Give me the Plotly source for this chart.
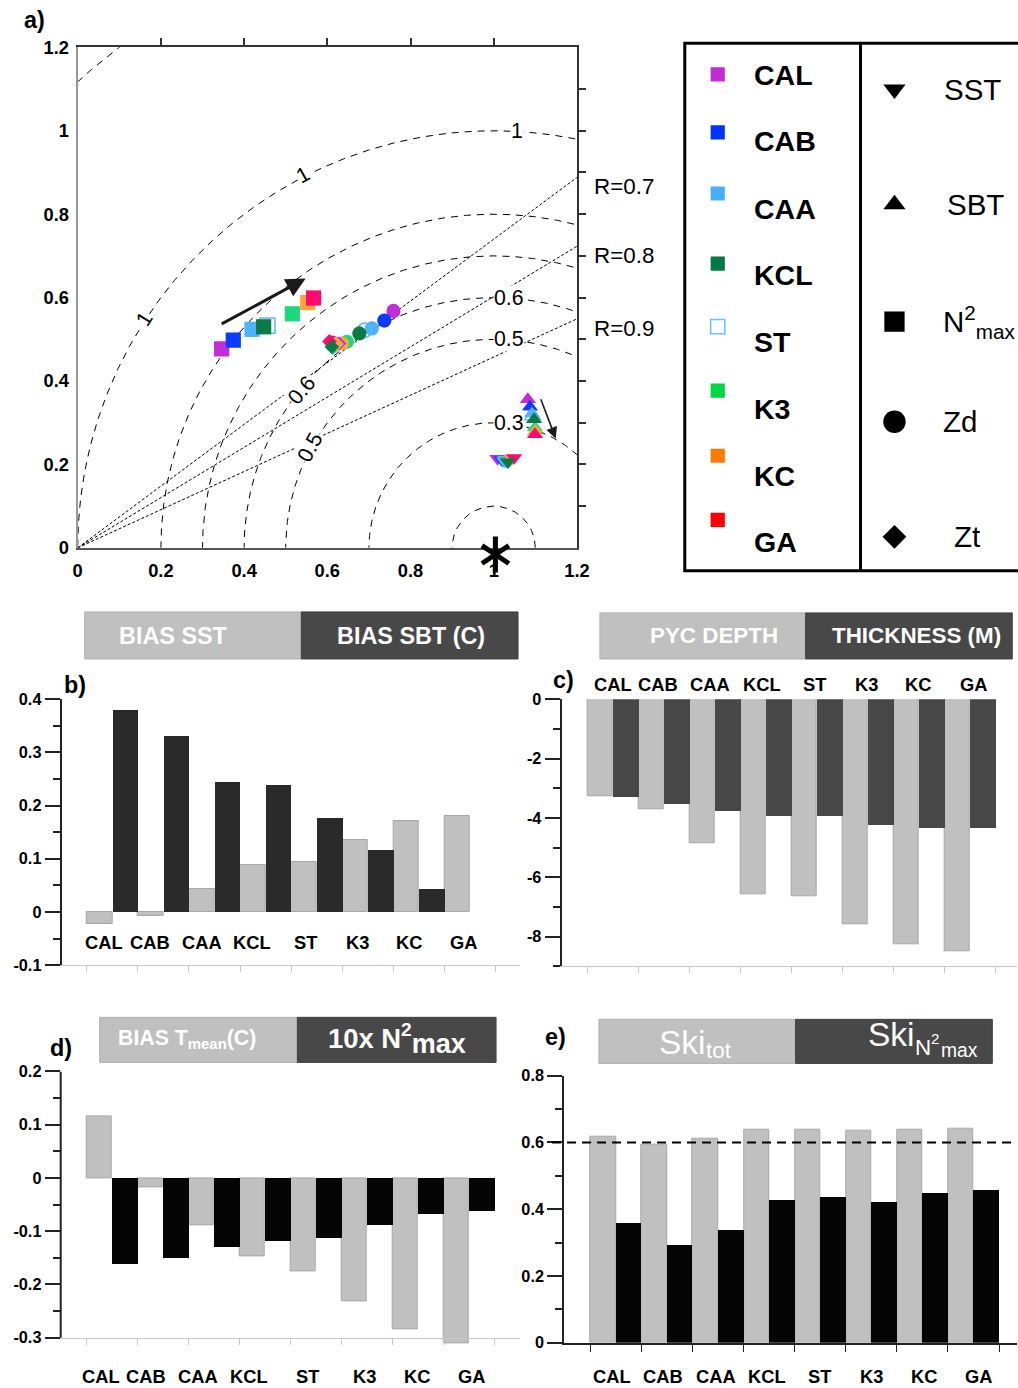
import numpy as np
import plotly.graph_objects as go

# The photographed page maps figure pixels f to picture pixels d = S*f + B
# (measured on earlier renders); all layout positions below are given in
# picture pixels of the reference and converted back through this mapping.
S, BX, BY = 0.984, 4.2, 9.7
W = int(round((1018 - BX) / S))
H = int(round((1388 - BY) / S))
FONT = "Liberation Sans, Arial, sans-serif"

# ---------------- DATA ----------------
models = ["CAL", "CAB", "CAA", "KCL", "ST", "K3", "KC", "GA"]

# Taylor diagram (normalised) coordinates per model
sst_x = [1.009, 1.020, 1.025, 1.034, 1.030, 1.038, 1.044, 1.049]
sst_y = [0.214, 0.210, 0.208, 0.206, 0.210, 0.209, 0.214, 0.216]
sbt_x = [1.082, 1.087, 1.092, 1.097, 1.093, 1.099, 1.100, 1.099]
sbt_y = [0.356, 0.338, 0.322, 0.308, 0.315, 0.288, 0.280, 0.272]
n2_x = [0.346, 0.374, 0.419, 0.447, 0.456, 0.516, 0.553, 0.567]
n2_y = [0.477, 0.498, 0.524, 0.530, 0.533, 0.561, 0.588, 0.599]
zd_x = [0.759, 0.737, 0.707, 0.677, 0.690, 0.647, 0.635, 0.612]
zd_y = [0.568, 0.545, 0.526, 0.514, 0.522, 0.494, 0.490, 0.492]
zt_x = [0.628, 0.615, 0.618, 0.611, 0.620, 0.613, 0.622, 0.605]
zt_y = [0.490, 0.487, 0.486, 0.482, 0.488, 0.480, 0.489, 0.495]

# reference geometry of the diagram
rms_radii = [0.1, 0.3, 0.5, 0.6, 0.7, 0.8, 1.0, 1.5]
corr_labels = ["R=0.7", "R=0.8", "R=0.9"]
corr_end_y = [0.888, 0.723, 0.549]        # y where each R line meets x=1.2
ref_point = (1.0, 0.0)

# bar panels
sst_bias = [-0.022, -0.007, 0.044, 0.089, 0.093, 0.135, 0.171, 0.181]
sbt_bias = [0.380, 0.330, 0.245, 0.238, 0.176, 0.116, 0.043, None]
pyc_depth = [-3.27, -3.72, -4.84, -6.58, -6.65, -7.59, -8.26, -8.49]
thickness = [-3.30, -3.55, -3.79, -3.96, -3.93, -4.24, -4.34, -4.36]
tmean_bias = [0.116, -0.017, -0.089, -0.147, -0.176, -0.231, -0.285, -0.311]
n2max_10x = [-0.163, -0.152, -0.131, -0.120, -0.114, -0.090, -0.069, -0.063]
ski_tot = [0.617, 0.594, 0.611, 0.638, 0.639, 0.635, 0.639, 0.641]
ski_n2max = [0.360, 0.294, 0.339, 0.429, 0.438, 0.423, 0.450, 0.459]

# ---------------- STYLE ----------------
mk_col = {"CAL": "#c22dd8", "CAB": "#0a3cff", "CAA": "#4db3ff", "KCL": "#0b7a47",
          "ST": "#5ab8ff", "K3": "#1ed67e", "KC": "#ffa436", "GA": "#ff0a6e"}
leg_col = {"CAL": "#c42bd6", "CAB": "#0033ff", "CAA": "#4aaeff", "KCL": "#007848",
           "ST": "#6cc0ff", "K3": "#00d83e", "KC": "#ff7b00", "GA": "#ff0000"}
LIGHT, DARK = "#c0c0c0", "#484848"
TAY_L, TAY_R, TAY_T, TAY_B = 77, 577, 46, 546     # Taylor plot area (picture pixels)
TAY_PX = (TAY_R - TAY_L) / 1.2                     # picture pixels per unit


def fx(p):
    return min(1.0, max(0.0, ((p - BX) / S) / W))


def fy(p):
    return min(1.0, max(0.0, 1 - ((p - BY) / S) / H))


def fz(n):
    return round(n / S, 1)


fig = go.Figure()


def txt(x, y, s, size, bold=False, color="black", xanchor="center", yanchor="middle", **kw):
    fig.add_annotation(x=fx(x), y=fy(y), xref="paper", yref="paper", text=s, showarrow=False,
                       font=dict(size=fz(size), color=color, family=FONT,
                                 weight="bold" if bold else "normal"),
                       xanchor=xanchor, yanchor=yanchor, **kw)


# ---------------- a) Taylor diagram ----------------
theta = np.linspace(0, np.pi, 900)
for r in rms_radii:
    fig.add_trace(go.Scatter(x=ref_point[0] + r * np.cos(theta), y=r * np.sin(theta), mode="lines",
                             line=dict(color="black", width=1, dash="7px,6px"),
                             hoverinfo="skip", xaxis="x", yaxis="y"))
for ye in corr_end_y:
    fig.add_trace(go.Scatter(x=[0, 1.2], y=[0, ye], mode="lines",
                             line=dict(color="black", width=1, dash="3px,2px"),
                             hoverinfo="skip", xaxis="x", yaxis="y"))

draw_order = [0, 1, 2, 4, 5, 6, 7, 3]
series = [(n2_x, n2_y, "square", 15), (zd_x, zd_y, "circle", 14), (zt_x, zt_y, "diamond", 11),
          (sbt_x, sbt_y, "triangle-up", 14), (sst_x, sst_y, "triangle-down", 14)]
for xs, ys, sym, sz in series:
    for i in draw_order:
        m = models[i]
        openm = m == "ST"
        fig.add_trace(go.Scatter(
            x=[xs[i]], y=[ys[i]], mode="markers", xaxis="x", yaxis="y",
            marker=dict(symbol=sym + ("-open" if openm else ""), size=fz(sz), color=mk_col[m],
                        line=dict(width=1.5 if openm else 0, color=mk_col[m]))))

# reference star: drawn on a twin axis (same scale) whose domain reaches below the x axis
for sym in ["y-up-open", "y-down-open"]:
    fig.add_trace(go.Scatter(x=[ref_point[0] + 0.004], y=[ref_point[1] - 0.016], mode="markers",
                             xaxis="x8", yaxis="y8", cliponaxis=False,
                             marker=dict(symbol=sym, size=fz(22), color="black",
                                         line=dict(width=5, color="black"))))

# overlay axes trace (top/right frame)
fig.add_trace(go.Scatter(x=[None], y=[None], xaxis="x6", yaxis="y6", mode="markers"))

# arrows
fig.add_annotation(x=0.548, y=0.646, ax=0.339, ay=0.533, xref="x", yref="y", axref="x", ayref="y",
                   showarrow=True, arrowhead=2, arrowsize=1.3, arrowwidth=3, arrowcolor="#1a1a1a", text=" ")
fig.add_annotation(x=1.149, y=0.262, ax=1.106, ay=0.375, xref="x", yref="y", axref="x", ayref="y",
                   showarrow=True, arrowhead=2, arrowsize=1.4, arrowwidth=1.6, arrowcolor="#1a1a1a", text=" ")

# arc labels
for (x, y, s, ang) in [(1.055, 1.0, "1", 0), (1.037, 0.6, "0.6", 0), (1.037, 0.5, "0.5", 0),
                       (1.037, 0.3, "0.3", 0), (0.161, 0.548, "1", -58), (0.541, 0.894, "1", -29),
                       (0.539, 0.378, "0.6", -50), (0.559, 0.242, "0.5", -62)]:
    fig.add_annotation(x=x, y=y, xref="x", yref="y", text=s, showarrow=False, textangle=ang,
                       bgcolor="white", borderpad=0,
                       font=dict(size=fz(21), family=FONT, color="black"))
for lab, ye in zip(corr_labels, corr_end_y):
    fig.add_annotation(x=fx(592), y=ye - 0.022, xref="paper", yref="y", text=lab, showarrow=False,
                       xanchor="left", font=dict(size=fz(22), family=FONT, color="black"))

txt(34, 19, "a)", 23, bold=True)

# ---------------- legend ----------------
leg_sq_y = [73, 131, 192, 262, 325, 389, 454, 518]
leg_lab_y = [74, 140, 207, 273, 340, 407, 474, 540]
for i, m in enumerate(models):
    openm = m == "ST"
    fig.add_trace(go.Scatter(x=[718], y=[leg_sq_y[i]], mode="markers", xaxis="x7", yaxis="y7",
                             marker=dict(symbol="square-open" if openm else "square", size=fz(14),
                                         color=leg_col[m], line=dict(width=1.5 if openm else 0, color=leg_col[m]))))
    fig.add_annotation(x=752, y=leg_lab_y[i], xref="x7", yref="y7", text=m, showarrow=False,
                       xanchor="left", font=dict(size=fz(28), family=FONT, color="black", weight="bold"))
sym_names = ["SST", "SBT", "N<sup>2</sup><sub>max</sub>", "Zd", "Zt"]
sym_shapes = [("triangle-down", 19), ("triangle-up", 19), ("square", 20), ("circle", 22), ("diamond", 18)]
sym_y = [88, 203, 320, 420, 535]
sym_lab_x = [943, 946, 942, 942, 953]
for i in range(5):
    fig.add_trace(go.Scatter(x=[895], y=[sym_y[i]], mode="markers", xaxis="x7", yaxis="y7",
                             marker=dict(symbol=sym_shapes[i][0], size=fz(sym_shapes[i][1]), color="black")))
    fig.add_annotation(x=sym_lab_x[i], y=sym_y[i], xref="x7", yref="y7", text=sym_names[i],
                       showarrow=False, xanchor="left",
                       font=dict(size=fz(29), family=FONT, color="black"))

shapes = []
shapes.append(dict(type="rect", xref="paper", yref="paper", x0=fx(685), x1=1.02, y0=fy(569), y1=fy(42),
                   line=dict(color="black", width=3)))
shapes.append(dict(type="line", xref="paper", yref="paper", x0=fx(861), x1=fx(861), y0=fy(42), y1=fy(569),
                   line=dict(color="black", width=3)))

# ---------------- headers ----------------
def header(x0, xm, x1, y0, y1):
    shapes.append(dict(type="rect", xref="paper", yref="paper", x0=fx(x0), x1=fx(xm), y0=fy(y1), y1=fy(y0),
                       fillcolor=LIGHT, line=dict(color="#b0b0b0", width=1), layer="below"))
    shapes.append(dict(type="rect", xref="paper", yref="paper", x0=fx(xm), x1=fx(x1), y0=fy(y1), y1=fy(y0),
                       fillcolor=DARK, line=dict(color="#404040", width=1), layer="below"))


header(84, 301, 518, 610, 657)
txt(173, 634, "BIAS SST", 23, bold=True, color="white")
txt(411, 634, "BIAS SBT (C)", 23, bold=True, color="white")

header(600, 806, 1013, 611, 657)
txt(714, 634, "PYC DEPTH", 22, bold=True, color="white")
txt(917, 634, "THICKNESS (M)", 22, bold=True, color="white")

header(99, 297, 496, 1015, 1060)
txt(186, 1037, "BIAS T<sub>mean</sub>(C)", 21, bold=True, color="white")
txt(397, 1037, "10x N<sup>2</sup><sub><span style='font-size:27px'>max</span></sub>", 27, bold=True, color="white")

header(599, 796, 993, 1017, 1061)
txt(657, 1040, "Ski", 33, color="white", xanchor="left")
txt(704, 1048, "tot", 22, color="white", xanchor="left")
txt(866, 1032, "Ski", 33, color="white", xanchor="left")
txt(914, 1045, "N", 22, color="white", xanchor="left")
txt(930, 1036, "2", 15, color="white", xanchor="left")
txt(940, 1048, "max", 19, color="white", xanchor="left")

# ---------------- bar panels ----------------
def bars(xa, ya, light_vals, dark_vals, dark_col):
    fig.add_trace(go.Bar(x=models, y=light_vals, xaxis=xa, yaxis=ya, marker=dict(color=LIGHT,
                         line=dict(color="#a8a8a8", width=1)), offsetgroup="a"))
    fig.add_trace(go.Bar(x=models, y=dark_vals, xaxis=xa, yaxis=ya, marker=dict(color=dark_col,
                         line=dict(width=0)), offsetgroup="b"))


bars("x2", "y2", sst_bias, sbt_bias, "#2a2a2a")
bars("x3", "y3", pyc_depth, thickness, "#474747")
bars("x4", "y4", tmean_bias, n2max_10x, "#050505")
bars("x5", "y5", ski_tot, ski_n2max, "#050505")

shapes.append(dict(type="line", xref="x5 domain", yref="y5", x0=-0.027, x1=1, y0=0.6, y1=0.6,
                   line=dict(color="black", width=2, dash="9px,6px")))
shapes.append(dict(type="line", xref="paper", yref="y4", x0=fx(60), x1=fx(60), y0=-0.3, y1=0.2,
                   line=dict(color="#222", width=2)))

lab_sets = [([103, 149, 201, 252, 305, 357, 409, 463], 940),
            ([612.7, 658.3, 710.7, 762.3, 814.7, 866.7, 919, 974], 683),
            ([100, 145.7, 197.7, 249, 306.7, 364, 416.7, 471], 1374),
            ([611.7, 663.3, 716, 767.3, 820, 871.7, 924.3, 978.7], 1374)]
for xs, yy in lab_sets:
    for m, xp in zip(models, xs):
        txt(xp, yy, m, 18, bold=True)

txt(74, 683, "b)", 23, bold=True)
txt(564, 678, "c)", 23, bold=True)
txt(60, 1046, "d)", 23, bold=True)
txt(556, 1035, "e)", 23, bold=True)

# ---------------- axes ----------------
tick_font = dict(size=fz(16), family=FONT, color="black", weight="bold")


def yax(top, bot, rng, tv, tt, minor_tv, anchor, showline=True):
    return dict(domain=[fy(bot), fy(top)], range=rng, anchor=anchor, tickvals=tv, ticktext=tt,
                ticks="outside", ticklen=15, tickwidth=1.5, tickcolor="#222",
                showline=showline, linecolor="#222", linewidth=2, tickfont=tick_font,
                minor=dict(tickvals=minor_tv, ticks="outside", ticklen=7, tickwidth=1.5, tickcolor="#222"),
                showgrid=False, zeroline=False, fixedrange=True)


def xax(left, right, rng, anchor, col="#c8c8c8", lw=1, tl=6, **kw):
    d = dict(domain=[fx(left), fx(right)], range=rng, anchor=anchor, type="category",
             showline=True, linecolor=col, linewidth=lw, ticks="outside", ticklen=tl, tickcolor=col,
             tickwidth=1.2, tickson="boundaries", showticklabels=False, showgrid=False, zeroline=False)
    d.update(kw)
    return d


taylor_tv = [0, 0.2, 0.4, 0.6, 0.8, 1.0, 1.2]
taylor_tt = ["0", "0.2", "0.4", "0.6", "0.8", "1", "1.2"]
STAR_EXT = 22  # extra picture pixels below the Taylor x axis for the star's twin axis

fig.update_layout(
    width=W, height=H, margin=dict(l=0, r=0, t=0, b=0),
    paper_bgcolor="white", plot_bgcolor="rgba(0,0,0,0)", showlegend=False,
    barmode="group", bargap=0, bargroupgap=0, hovermode=False,
    font=dict(family=FONT, color="black"),
    xaxis=dict(domain=[fx(TAY_L), fx(TAY_R)], range=[0, 1.2], anchor="y", tickvals=taylor_tv, ticktext=taylor_tt,
               showline=True, linecolor="#555", linewidth=2, ticks="outside", ticklen=5,
               tickcolor="rgba(0,0,0,0)", tickfont=dict(size=fz(18), family=FONT, weight="bold"),
               showgrid=False, zeroline=False),
    yaxis=dict(domain=[fy(TAY_B), fy(TAY_T)], range=[0, 1.2], anchor="x", tickvals=taylor_tv, ticktext=taylor_tt,
               showline=True, linecolor="#999", linewidth=2, ticks="outside", ticklen=3,
               tickcolor="rgba(0,0,0,0)", tickfont=dict(size=fz(18), family=FONT, weight="bold"),
               showgrid=False, zeroline=False),
    xaxis6=dict(overlaying="x", side="top", anchor="y6", range=[0, 1.2],
                tickvals=[0.2, 0.4, 0.6, 0.8, 1.0], ticks="outside", ticklen=7, tickwidth=1.5,
                tickcolor="#333", showticklabels=False, showline=True, linecolor="#333", linewidth=2,
                showgrid=False, zeroline=False),
    yaxis6=dict(overlaying="y", side="right", anchor="x6", range=[0, 1.2],
                tickvals=[0.1 * k for k in range(1, 12)], ticks="outside", ticklen=7, tickwidth=1.5,
                tickcolor="#333", showticklabels=False, showline=True, linecolor="#333", linewidth=2,
                showgrid=False, zeroline=False),
    xaxis8=dict(domain=[fx(TAY_L), fx(TAY_R)], range=[0, 1.2], anchor="y8", visible=False),
    yaxis8=dict(domain=[fy(TAY_B + STAR_EXT), fy(TAY_T)], range=[-STAR_EXT / TAY_PX, 1.2], anchor="x8",
                visible=False),
    xaxis7=dict(domain=[fx(684), 1], range=[684, 684 + (1 - fx(684)) * W * S], anchor="y7", visible=False),
    yaxis7=dict(domain=[fy(570), fy(41)], range=[570, 41], anchor="x7", visible=False),
    # b
    xaxis2=xax(61, 520, [-0.988, 7.977], "y2"),
    yaxis2=yax(697, 963, [-0.1, 0.4], [-0.1, 0, 0.1, 0.2, 0.3, 0.4], ["-0.1", "0", "0.1", "0.2", "0.3", "0.4"],
               [-0.05, 0.05, 0.15, 0.25, 0.35], "x2"),
    # c
    xaxis3=xax(561.7, 1018, [-1.009, 7.92], "y3"),
    yaxis3=yax(697.3, 964, [-9, 0], [0, -2, -4, -6, -8], ["0", "-2", "-4", "-6", "-8"],
               [-1, -3, -5, -7, -9], "x3"),
    # d
    xaxis4=xax(60, 520, [-1.009, 8.003], "free", position=fy(1335)),
    yaxis4=yax(1069, 1341.4, [-0.312, 0.2], [0.2, 0.1, 0, -0.1, -0.2, -0.3],
               ["0.2", "0.1", "0", "-0.1", "-0.2", "-0.3"], [0.15, 0.05, -0.05, -0.15, -0.25], "x4",
               showline=False),
    # e
    xaxis5=xax(564.3, 1018, [-1.016, 7.852], "y5", col="#222", lw=2, tl=7),
    yaxis5=yax(1073.3, 1340, [0, 0.8], [0, 0.2, 0.4, 0.6, 0.8], ["0", "0.2", "0.4", "0.6", "0.8"],
               [0.1, 0.3, 0.5, 0.7], "x5"),
    shapes=shapes,
)

fig.write_html("out.html")
